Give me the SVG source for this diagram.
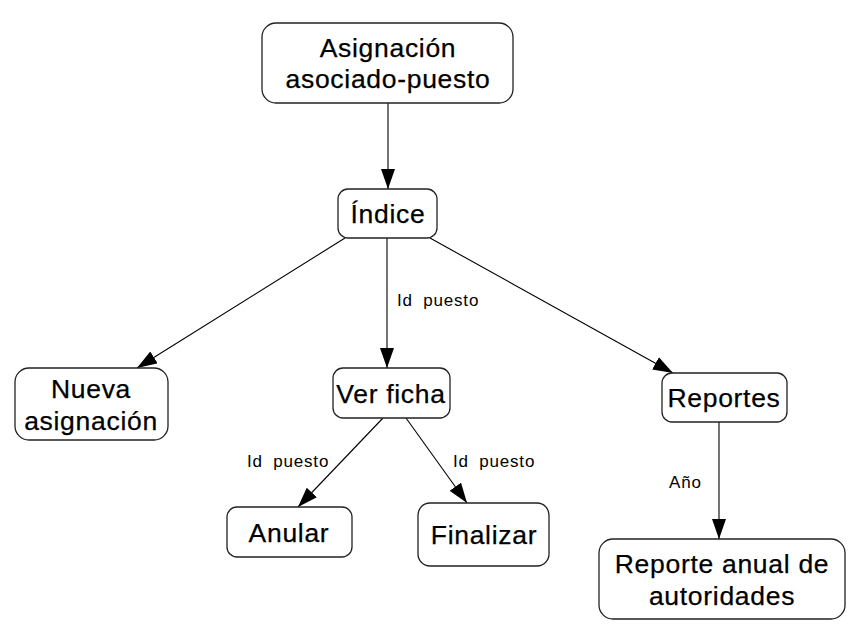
<svg xmlns="http://www.w3.org/2000/svg" width="863" height="639" viewBox="0 0 863 639">
<style>
.box{fill:#fff;stroke:#222;stroke-width:1.3}
.t{font-family:"Liberation Sans",Arial,sans-serif;font-size:26.5px;letter-spacing:0.7px;fill:#000;stroke:#000;stroke-width:0.25;text-anchor:middle}
.l{font-family:"Liberation Sans",Arial,sans-serif;font-size:17px;letter-spacing:0.8px;word-spacing:5px;fill:#000}
.c{stroke:#000;stroke-width:1.1;fill:none}
</style>
<defs>
<marker id="ah" markerUnits="userSpaceOnUse" markerWidth="22" markerHeight="16" refX="20" refY="7" orient="auto">
<path d="M0,0 L20,7 L0,14 Z" fill="#000"/>
</marker>
</defs>
<rect width="863" height="639" fill="#fff"/>
<g id="connectors">
<line class="c" x1="388" y1="103" x2="388" y2="189" marker-end="url(#ah)"/>
<line class="c" x1="345" y1="238" x2="137" y2="368" marker-end="url(#ah)"/>
<line class="c" x1="387" y1="238" x2="387" y2="368" marker-end="url(#ah)"/>
<line class="c" x1="430" y1="238" x2="673" y2="373" marker-end="url(#ah)"/>
<line class="c" x1="383" y1="418" x2="298" y2="507" marker-end="url(#ah)"/>
<line class="c" x1="406" y1="418" x2="467" y2="503" marker-end="url(#ah)"/>
<line class="c" x1="719" y1="422" x2="719" y2="539" marker-end="url(#ah)"/>
<text class="l" x="397" y="306">Id puesto</text>
<text class="l" x="247" y="467">Id puesto</text>
<text class="l" x="453" y="467">Id puesto</text>
<text class="l" x="669" y="488">Año</text>
</g>
<g id="n-asignacion">
<rect class="box" x="262" y="23" width="251" height="80" rx="14"/>
<text class="t" x="388" y="57">Asignación</text>
<text class="t" x="388" y="88">asociado-puesto</text>
</g>
<g id="n-indice">
<rect class="box" x="338" y="189" width="99" height="49" rx="10"/>
<text class="t" x="388" y="223">Índice</text>
</g>
<g id="n-nueva">
<rect class="box" x="15" y="368" width="153" height="72" rx="14"/>
<text class="t" x="91" y="398">Nueva</text>
<text class="t" x="91" y="430">asignación</text>
</g>
<g id="n-verficha">
<rect class="box" x="333" y="368" width="117" height="50" rx="10"/>
<text class="t" x="391" y="403">Ver ficha</text>
</g>
<g id="n-reportes">
<rect class="box" x="662" y="373" width="125" height="49" rx="10"/>
<text class="t" x="724" y="407">Reportes</text>
</g>
<g id="n-anular">
<rect class="box" x="227" y="507" width="125" height="50" rx="10"/>
<text class="t" x="289" y="542">Anular</text>
</g>
<g id="n-finalizar">
<rect class="box" x="418" y="503" width="131" height="63" rx="12"/>
<text class="t" x="484" y="544">Finalizar</text>
</g>
<g id="n-reporteanual">
<rect class="box" x="599" y="539" width="246" height="80" rx="14"/>
<text class="t" x="722" y="573">Reporte anual de</text>
<text class="t" x="722" y="605">autoridades</text>
</g>
</svg>
